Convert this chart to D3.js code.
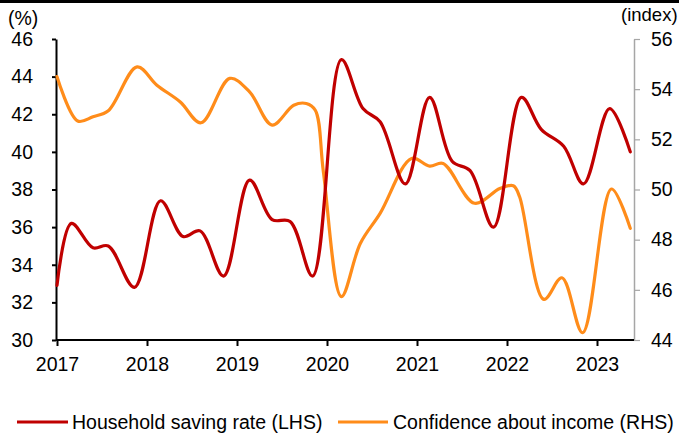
<!DOCTYPE html>
<html><head><meta charset="utf-8">
<script src="https://cdn.jsdelivr.net/npm/d3@7"></script>
<style>
body{margin:0;background:#fff}
svg{display:block}
text{font-family:"Liberation Sans",Arial,Helvetica,sans-serif;fill:#000}
</style>
</head><body>
<svg id="c" width="679" height="434"></svg>
<script>
// ---- data ----
const xTicks = [2017, 2018, 2019, 2020, 2021, 2022, 2023];
const leftTicks = [30, 32, 34, 36, 38, 40, 42, 44, 46];
const rightTicks = [44, 46, 48, 50, 52, 54, 56];

const savingT = [2017.0, 2017.16, 2017.40, 2017.57, 2017.86, 2018.15, 2018.40, 2018.59, 2018.85,
  2019.14, 2019.39, 2019.59, 2019.84, 2020.16, 2020.40, 2020.59, 2020.87, 2021.14, 2021.39,
  2021.59, 2021.85, 2022.16, 2022.38, 2022.63, 2022.85, 2023.14, 2023.37];
const savingV = [32.9, 36.2, 34.9, 35.0, 32.8, 37.4, 35.5, 35.8, 33.4,
  38.5, 36.4, 36.3, 33.4, 44.9, 42.3, 41.6, 38.3, 42.9, 39.5,
  39.0, 36.0, 42.9, 41.2, 40.3, 38.3, 42.3, 40.0];

const confT = [2017.0, 2017.23, 2017.40, 2017.57, 2017.89, 2018.11, 2018.37, 2018.60, 2018.92,
  2019.14, 2019.39, 2019.63, 2019.77, 2019.87, 2019.96, 2020.16, 2020.37, 2020.59, 2020.94,
  2021.14, 2021.29, 2021.64, 2021.92, 2022.07, 2022.14, 2022.41, 2022.61, 2022.84, 2023.16, 2023.37];
const confV = [54.5, 52.73, 52.9, 53.14, 54.89, 54.16, 53.49, 52.66, 54.43,
  53.89, 52.57, 53.36, 53.43, 53.16, 50.7, 45.73, 47.85, 49.05, 51.24,
  50.93, 51.04, 49.45, 50.04, 50.15, 49.71, 45.62, 46.48, 44.29, 50.02, 48.45];

const seriesNames = ["Household saving rate (LHS)", "Confidence about income (RHS)"];
const colors = ["#C00000", "#FF8C1A"];

// ---- layout ----
const svg = d3.select("#c");
const L = 56, R = 634, T = 39, B = 340;
const FS = "19.5px";

const x = d3.scaleLinear().domain([2017, 2023.4]).range([L + 1, R - 1]);
const yL = d3.scaleLinear().domain([30, 46]).range([B, T]);
const yR = d3.scaleLinear().domain([44, 56]).range([B, T]);

svg.append("rect").attr("x", 0).attr("y", 0).attr("width", 679).attr("height", 3).attr("fill", "#000");

// right axis (grey)
const gR = svg.append("g").attr("transform", `translate(${R},0)`)
  .call(d3.axisRight(yR).tickValues(rightTicks).tickSize(6).tickSizeOuter(0).tickPadding(11).tickFormat(d3.format("d")));
gR.select(".domain").attr("stroke", "#A6A6A6").attr("stroke-width", 1.5);
gR.selectAll(".tick line").attr("stroke", "#A6A6A6").attr("stroke-width", 1.2);
gR.selectAll("text").style("font-size", FS).attr("fill", "#000");

// left axis
const gL = svg.append("g").attr("transform", `translate(${L},0)`)
  .call(d3.axisLeft(yL).tickValues(leftTicks).tickSize(4).tickSizeOuter(0).tickPadding(19).tickFormat(d3.format("d")));
gL.select(".domain").attr("stroke", "#000").attr("stroke-width", 2);
gL.selectAll(".tick line").attr("stroke", "#000").attr("stroke-width", 2);
gL.selectAll("text").style("font-size", FS).attr("fill", "#000");

// x axis
const gX = svg.append("g").attr("transform", `translate(0,${B})`)
  .call(d3.axisBottom(x).tickValues(xTicks).tickSize(6).tickSizeOuter(0).tickPadding(11).tickFormat(d3.format("d")));
gX.select(".domain").attr("stroke", "#000").attr("stroke-width", 2.2).attr("d", `M${L},0H${R}`);
gX.selectAll(".tick line").attr("stroke", "#000").attr("stroke-width", 2);
gX.selectAll("text").style("font-size", FS).attr("fill", "#000");

svg.append("text").attr("x", 8).attr("y", 25).style("font-size", FS).text("(%)");
svg.append("text").attr("x", 621).attr("y", 21).style("font-size", "18.5px").text("(index)");

// lines
const curve = d3.curveCatmullRom.alpha(0.5);
const lineL = d3.line().x(d => x(d[0])).y(d => yL(d[1])).curve(curve);
const lineR = d3.line().x(d => x(d[0])).y(d => yR(d[1])).curve(curve);

svg.append("path").datum(confT.map((t, i) => [t, confV[i]]))
  .attr("d", lineR).attr("fill", "none").attr("stroke", colors[1]).attr("stroke-width", 3.2)
  .attr("stroke-linejoin", "round").attr("stroke-linecap", "round");
svg.append("path").datum(savingT.map((t, i) => [t, savingV[i]]))
  .attr("d", lineL).attr("fill", "none").attr("stroke", colors[0]).attr("stroke-width", 3.2)
  .attr("stroke-linejoin", "round").attr("stroke-linecap", "round");

// legend
const legend = [
  {x1: 17, x2: 68, tx: 72},
  {x1: 338, x2: 388, tx: 393}
];
legend.forEach((l, i) => {
  svg.append("line").attr("x1", l.x1).attr("x2", l.x2).attr("y1", 422).attr("y2", 422)
    .attr("stroke", colors[i]).attr("stroke-width", 3.2);
  svg.append("text").attr("x", l.tx).attr("y", 429).style("font-size", FS).text(seriesNames[i]);
});
</script>
</body></html>
